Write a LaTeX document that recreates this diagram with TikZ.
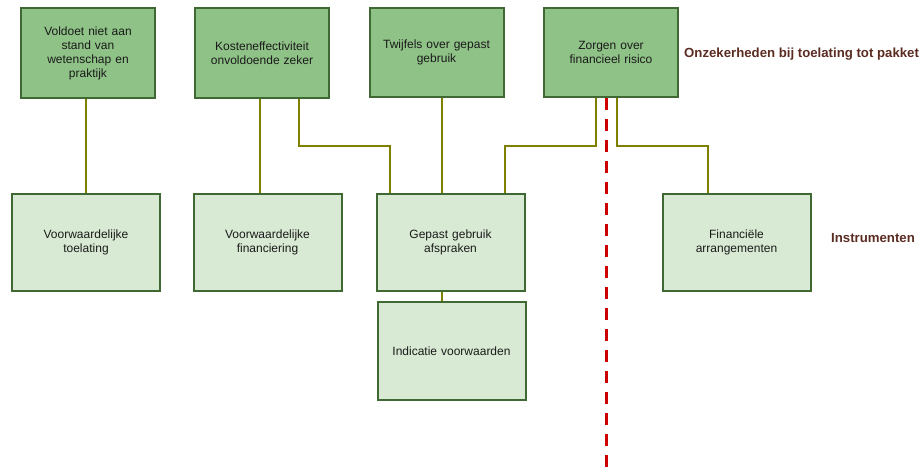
\documentclass[tikz,border=0pt]{standalone}
\usepackage{fontspec}
\setmainfont{Liberation Sans}
\usetikzlibrary{calc}
\definecolor{topfill}{RGB}{143,194,135}
\definecolor{botfill}{RGB}{217,234,212}
\definecolor{boxline}{RGB}{63,104,50}
\definecolor{connline}{RGB}{128,128,0}
\definecolor{redline}{RGB}{204,0,0}
\definecolor{lblcol}{RGB}{90,44,34}
\definecolor{txtcol}{RGB}{26,26,26}
\begin{document}
\begin{tikzpicture}[x=1pt,y=-1pt,
  boxbase/.style={draw=boxline,line width=2pt,text=txtcol,align=center,
    font=\fontsize{12}{14}\selectfont,inner sep=0pt},
  topbox/.style={boxbase,fill=topfill,minimum width=134pt,minimum height=90pt,text width=124pt},
  botbox/.style={boxbase,fill=botfill,minimum width=148pt,minimum height=97pt,text width=134pt},
  conn/.style={draw=connline,line width=2pt},
  lbl/.style={text=lblcol,font=\bfseries\fontsize{13.2}{15}\selectfont,anchor=west,inner sep=0pt}]
\useasboundingbox (0,0) rectangle (923,474);
% top row
\node[topbox] (A) at (88,53) {Voldoet niet aan\\stand van\\wetenschap en\\praktijk};
\node[topbox] (B) at (262,53) {Kosteneffectiviteit\\onvoldoende zeker};
\node[topbox,minimum height=89pt] (C) at (436.5,52.5) {Twijfels over gepast\\gebruik};
\node[topbox,minimum height=89pt] (D) at (611,52.5) {Zorgen over\\financieel risico};
% bottom row
\node[botbox] (E) at (86,242.5) {Voorwaardelijke\\toelating};
\node[botbox] (F) at (267.5,242.5) {Voorwaardelijke\\financiering};
\node[botbox] (G) at (450.5,242.5) {Gepast gebruik\\afspraken};
\node[botbox,minimum height=98pt] (H) at (451.5,351) {Indicatie voorwaarden};
\node[botbox] (I) at (736.5,242.5) {Financiële\\arrangementen};
% labels
\node[lbl] (L1) at (684,54) {Onzekerheden bij toelating tot pakket};
\node[lbl] (L2) at (831,238) {Instrumenten};
% helper coordinates
\coordinate (xa) at (86,0);
\coordinate (xb) at (260,0);
\coordinate (xb2) at (299,0);
\coordinate (xg1) at (390,0);
\coordinate (xg2) at (442,0);
\coordinate (xg3) at (505,0);
\coordinate (xd1) at (596,0);
\coordinate (xd2) at (617,0);
\coordinate (xi) at (708,0);
\coordinate (ymid) at (0,146);
% connectors
\draw[conn] (A.south -| xa) -- (E.north -| xa);
\draw[conn] (B.south -| xb) -- (F.north -| xb);
\draw[conn] (B.south -| xb2) -- (xb2 |- ymid) -- (xg1 |- ymid) -- (G.north -| xg1);
\draw[conn] (C.south -| xg2) -- (G.north -| xg2);
\draw[conn] (D.south -| xd1) -- (xd1 |- ymid) -- (xg3 |- ymid) -- (G.north -| xg3);
\draw[conn] (D.south -| xd2) -- (xd2 |- ymid) -- (xi |- ymid) -- (I.north -| xi);
\draw[conn] (G.south -| xg2) -- (H.north -| xg2);
% red dashed divider
\coordinate (rbot) at (606,474);
\draw[redline,line width=3pt,dash pattern=on 12pt off 9pt] (D.south -| rbot) -- (rbot);
\end{tikzpicture}
\end{document}
